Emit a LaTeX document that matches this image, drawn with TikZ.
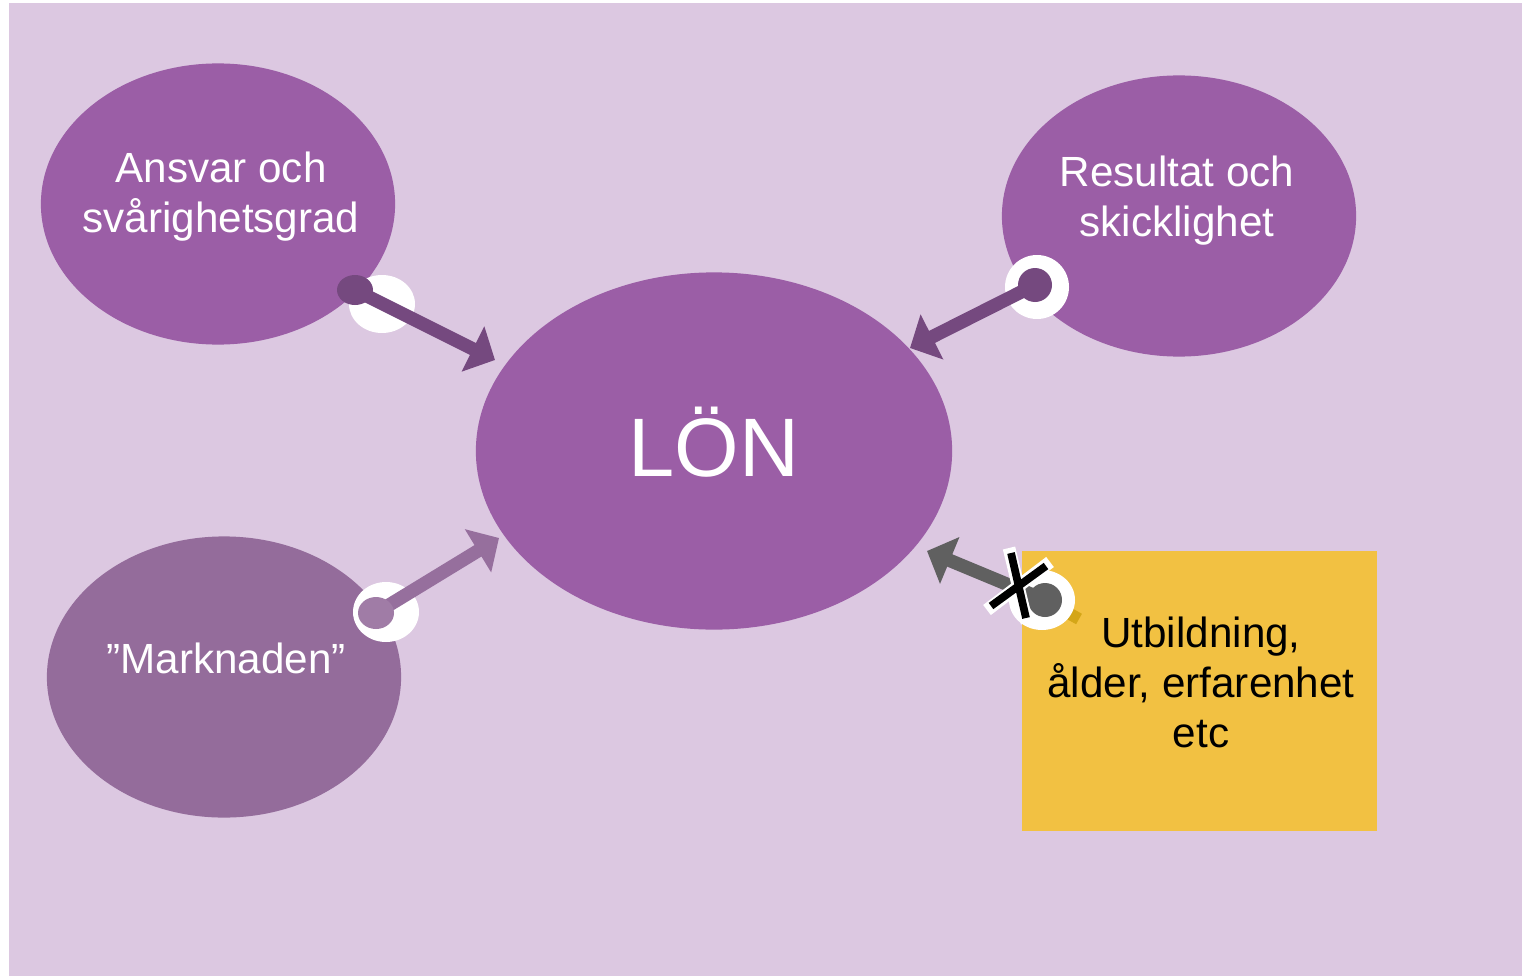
\documentclass[tikz,border=0pt]{standalone}
\usepackage{fontspec}
\setmainfont{Liberation Sans}
\usetikzlibrary{shapes.geometric,arrows.meta}

\definecolor{backlilac}{RGB}{220,200,225}
\definecolor{bubble}{RGB}{155,94,166}
\definecolor{marketbubble}{RGB}{148,108,155}
\definecolor{plum}{RGB}{117,73,127}
\definecolor{marketplum}{RGB}{150,111,157}
\definecolor{marketknob}{RGB}{160,124,166}
\definecolor{note}{RGB}{242,193,66}
\definecolor{notedark}{RGB}{212,166,24}
\definecolor{slate}{RGB}{96,96,96}

\begin{document}
\begin{tikzpicture}[x=0.01cm, y=-0.01cm,
    topic/.style={ellipse, fill=#1, minimum width=3.54cm, minimum height=2.81cm, inner sep=0pt},
    caption/.style={text=white, align=center, inner sep=0pt, font=\fontsize{12}{14.2}\selectfont},
    link/.style={draw=#1, line width=3.8pt, -{Triangle[length=7pt,width=14pt]}},
    cross/.style={line width=#1}]
    \useasboundingbox (0, 0) rectangle (1522, 976);
    \fill[backlilac] (8.5, 3) rectangle (1522, 976);

    \node[topic=bubble] (ansvar) at (218, 204) {};
    \node[topic=bubble] (resultat) at (1179, 216) {};
    \node[topic=marketbubble] (marknad) at (224, 677) {};
    \node[topic=bubble, minimum width=4.76cm, minimum height=3.57cm] (lon) at (714, 451) {};
    \node[fill=note, minimum width=3.55cm, minimum height=2.8cm, inner sep=0pt] (utbildning) at (1199.5, 691) {};

    \node[caption] (ansvartext) at (221, 197) {Ansvar och\\svårighetsgrad};
    \node[caption] (resultattext) at (1177, 201) {Resultat och\\skicklighet};
    \node[caption] (marknadtext) at (226, 658) {”Marknaden”};
    \node[caption, font=\fontsize{23.6}{28}\selectfont] (lontext) at (714, 442) {LÖN};
    \node[caption, text=black] (utbildningtext) at (1201, 682) {Utbildning,\\ålder, erfarenhet\\etc};

    \coordinate (ansvarknob) at (355, 290);
    \coordinate (resultatknob) at (1035, 285);
    \coordinate (marknadknob) at (376, 613);
    \coordinate (utbildningknob) at (1045, 600);
    \coordinate (lonnw) at (495, 360);
    \coordinate (lonne) at (910, 348);
    \coordinate (lonsw) at (499, 538);
    \coordinate (lonse) at (927, 551);

    \draw[notedark, line width=3.4pt] (utbildningknob) -- (1079, 619);

    \fill[white] (382, 304) ellipse [x radius=33, y radius=29];
    \fill[white] (1037, 287) circle [radius=32];
    \fill[white] (386, 612) ellipse [x radius=33, y radius=30];
    \fill[white] (1042, 600) ellipse [x radius=33, y radius=30];

    \draw[link=plum] (ansvarknob) -- (lonnw);
    \draw[link=plum] (resultatknob) -- (lonne);
    \draw[link=marketplum] (marknadknob) -- (lonsw);
    \draw[link=slate] (utbildningknob) -- (lonse);

    \fill[plum] (ansvarknob) ellipse [x radius=18, y radius=15];
    \fill[plum] (resultatknob) circle [radius=17];
    \fill[marketknob] (marknadknob) ellipse [x radius=18, y radius=16];
    \fill[slate] (utbildningknob) circle [radius=17];

    \draw[cross=3.6pt, white] (1009, 548) -- (1027, 623);
    \draw[cross=3.6pt, white] (987, 610) -- (1050, 562);
    \draw[cross=2.2pt] (1011, 553) -- (1026, 618);
    \draw[cross=2.2pt] (991, 606) -- (1046, 566);
  \end{tikzpicture}
\end{document}
